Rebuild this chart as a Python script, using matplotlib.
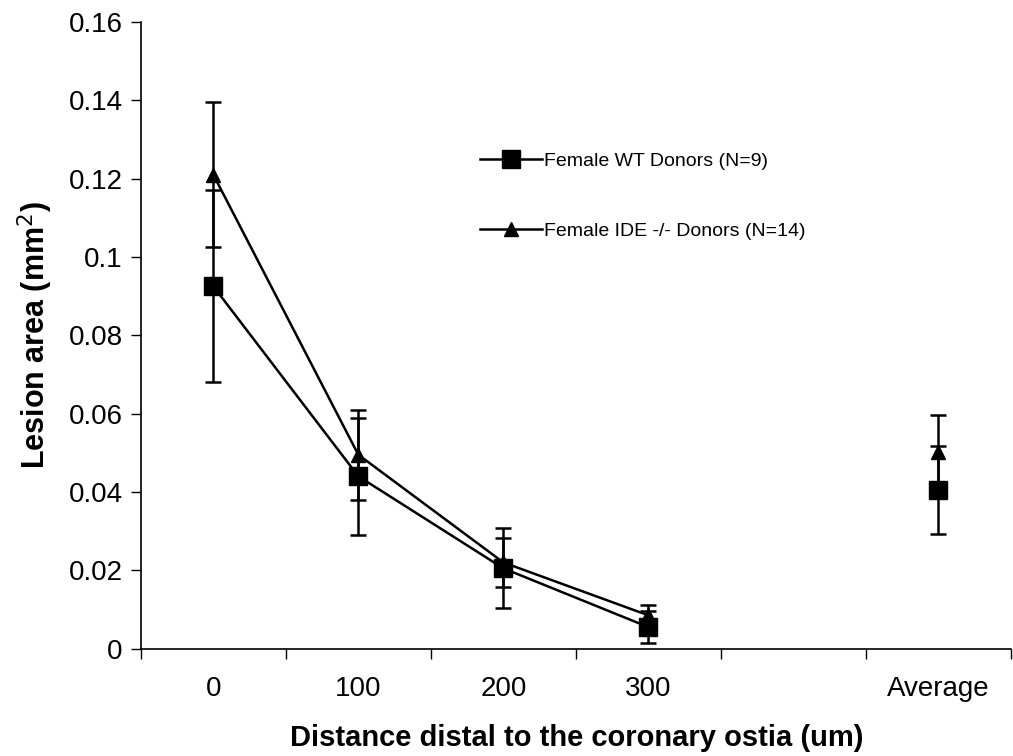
import matplotlib
matplotlib.use("Agg")
import matplotlib.pyplot as plt
import numpy as np

plt.rcParams['font.family'] = ['Liberation Sans', 'DejaVu Sans']

categories = ["0", "100", "200", "300", "", "Average"]
wt_vals = [0.0925, 0.0440, 0.0205, 0.0055, 0.0405]
wt_err = [0.0245, 0.0150, 0.0102, 0.0040, 0.0113]
ide_vals = [0.1210, 0.0495, 0.0220, 0.0085, 0.0503]
ide_err = [0.0185, 0.0115, 0.0062, 0.0027, 0.0093]
wt_label = "Female WT Donors (N=9)"
ide_label = "Female IDE -/- Donors (N=14)"
yticks = [0, 0.02, 0.04, 0.06, 0.08, 0.1, 0.12, 0.14, 0.16]
ytick_labels = ["0", "0.02", "0.04", "0.06", "0.08", "0.1", "0.12", "0.14", "0.16"]

fig = plt.figure(figsize=(10.13, 7.56), dpi=100)
ax = fig.add_axes([0.139, 0.142, 0.859, 0.829])

x_line = np.arange(4)
x_avg = 5

ekw = dict(ecolor='black', elinewidth=1.8, capsize=6, capthick=1.8)
ax.plot(x_line, wt_vals[:4], color='black', lw=1.8, marker='s', ms=13, mfc='black', mec='black', label=wt_label, zorder=3)
ax.plot(x_line, ide_vals[:4], color='black', lw=1.8, marker='^', ms=10, mfc='black', mec='black', label=ide_label, zorder=3)
ax.plot([x_avg], [wt_vals[4]], ls='none', marker='s', ms=13, color='black', zorder=3)
ax.plot([x_avg], [ide_vals[4]], ls='none', marker='^', ms=10, color='black', zorder=3)
xe = list(x_line) + [x_avg]
ax.errorbar(xe, wt_vals, yerr=wt_err, fmt='none', **ekw)
ax.errorbar(xe, ide_vals, yerr=ide_err, fmt='none', **ekw)

ax.set_xlim(-0.5, 5.5)
ax.set_ylim(0, 0.16)
ax.set_xticks(np.arange(-0.5, 6, 1))
ax.set_xticklabels([])
ax.set_xticks(np.arange(6), minor=True)
ax.set_xticklabels(categories, minor=True, fontsize=20)
ax.tick_params(axis='x', which='major', direction='out', length=7, width=1)
ax.tick_params(axis='x', which='minor', length=0, pad=20)
ax.set_yticks(yticks)
ax.set_yticklabels(ytick_labels, fontsize=20)
ax.tick_params(axis='y', direction='out', length=7, width=1, pad=6)

for s in ['top', 'right']:
    ax.spines[s].set_visible(False)
for s in ['left', 'bottom']:
    ax.spines[s].set_linewidth(1.2)

fig.text(0.5695, 1 - 746 / 756, "Distance distal to the coronary ostia (um)", fontsize=21,
         fontweight='bold', ha='center', va='baseline')
ax.set_ylabel("Lesion area (mm$^2$)", fontsize=22, fontweight='bold', labelpad=10)

leg = ax.legend(loc='upper left', bbox_to_anchor=(0.466, 0.809), bbox_transform=fig.transFigure,
                frameon=False, fontsize=14, handlelength=3.2, handletextpad=0.1,
                labelspacing=2.68, borderaxespad=0)

fig.savefig("out.png", dpi=100)
